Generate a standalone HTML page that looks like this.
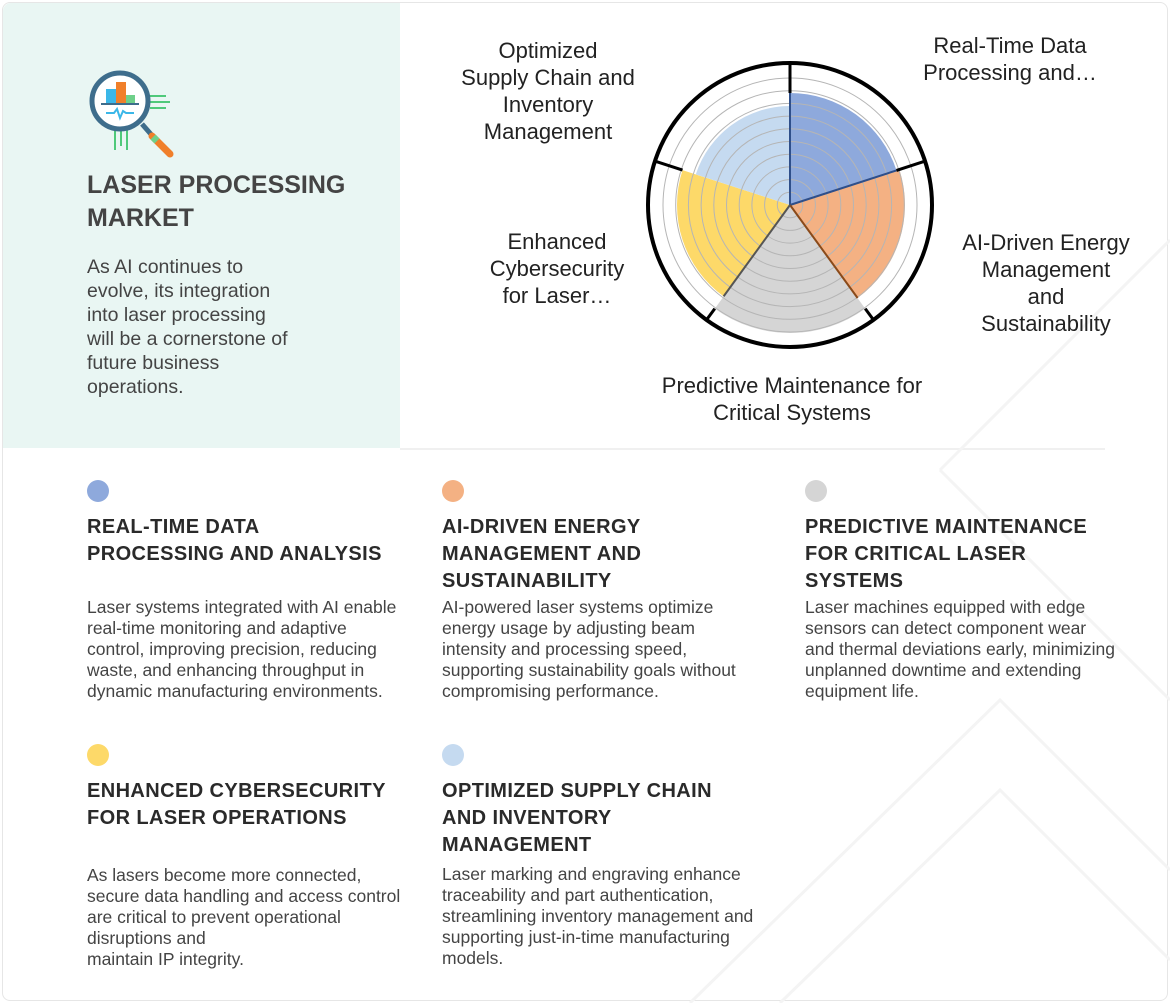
<!DOCTYPE html>
<html><head><meta charset="utf-8"><style>
body{margin:0;width:1170px;height:1003px;background:#fff;font-family:"Liberation Sans",Arial,sans-serif;position:relative;overflow:hidden;color:#333}
.a{position:absolute;white-space:nowrap}
.lbl{font-size:22px;line-height:27px;text-align:center;color:#222;transform:translateX(-50%)}
.t{font-size:20px;line-height:27px;font-weight:bold;color:#2a2a2a;letter-spacing:0.4px}
.b{font-size:17.5px;line-height:21px;color:#444}
.dot{position:absolute;width:22px;height:22px;border-radius:50%}
</style></head><body>
<div class="a" style="left:2px;top:2px;width:1164px;height:997px;border:1px solid #e6e6e6;border-radius:8px"></div>
<div class="a" style="left:3px;top:3px;width:397px;height:445px;background:#e9f6f3;border-radius:8px 0 0 0"></div>
<div class="a" style="left:400px;top:448px;width:705px;height:2px;background:#f0f0f0"></div>
<svg class="a" style="left:0;top:0" width="1170" height="1003">
<g stroke="#f4f4f4" stroke-width="3" fill="none">
<path d="M940 470 L1170 240 M940 470 L1170 700"/>
<path d="M780 1003 L1000 790 L1170 960"/>
<path d="M690 1003 L1000 700 L1170 870"/>
</g>
<g>
<line x1="148" y1="102" x2="170" y2="102" stroke="#4fc97a" stroke-width="2"/>
<line x1="150" y1="108" x2="166" y2="108" stroke="#4fc97a" stroke-width="2"/>
<line x1="150" y1="96" x2="166" y2="96" stroke="#4fc97a" stroke-width="2"/>
<line x1="115" y1="130" x2="115" y2="150" stroke="#4fc97a" stroke-width="2"/>
<line x1="121" y1="130" x2="121" y2="146" stroke="#4fc97a" stroke-width="2"/>
<line x1="127" y1="130" x2="127" y2="150" stroke="#4fc97a" stroke-width="2"/>
<line x1="142" y1="124" x2="163" y2="148" stroke="#3e6d8c" stroke-width="5"/>
<line x1="152" y1="136" x2="170" y2="154" stroke="#f07f2a" stroke-width="7" stroke-linecap="round"/>
<line x1="153" y1="137" x2="157" y2="141" stroke="#6fd08a" stroke-width="7"/>
<circle cx="120" cy="101" r="28" fill="#fff" stroke="#3e6d8c" stroke-width="5"/>
<rect x="106" y="89" width="10" height="14" fill="#3bb7e8"/>
<rect x="116" y="82" width="10" height="21" fill="#f07f2a"/>
<rect x="126" y="95" width="9" height="8" fill="#6fd08a"/>
<line x1="101" y1="104" x2="139" y2="104" stroke="#3e6d8c" stroke-width="2"/>
<polyline points="106,113 114,113 117,109 120,118 123,111 126,113 134,113" fill="none" stroke="#3bb7e8" stroke-width="2"/>
</g>
<path d="M790 205 L790 93 A112 112 0 0 1 896.5 170.4 Z" fill="#8ea9dc"/>
<path d="M790 205 L899.4 169.5 A115 115 0 0 1 857.6 298 Z" fill="#f4b183"/>
<path d="M790 205 L865.2 308.6 A128 128 0 0 1 714.8 308.6 Z" fill="#d5d5d5"/>
<path d="M790 205 L723.6 296.4 A113 113 0 0 1 682.5 170.1 Z" fill="#fdd969"/>
<path d="M790 205 L695.8 174.4 A99 99 0 0 1 790 106 Z" fill="#c5daf0"/>
<g fill="none" stroke="#b5b5b5" stroke-width="1">
<circle cx="790" cy="205" r="12.7"/><circle cx="790" cy="205" r="25.4"/><circle cx="790" cy="205" r="38.1"/><circle cx="790" cy="205" r="50.8"/><circle cx="790" cy="205" r="63.5"/><circle cx="790" cy="205" r="76.2"/><circle cx="790" cy="205" r="88.9"/><circle cx="790" cy="205" r="101.6"/><circle cx="790" cy="205" r="114.3"/><circle cx="790" cy="205" r="127"/>
</g>
<line x1="790" y1="205" x2="790" y2="93" stroke="#2f4f8a" stroke-width="2"/>
<line x1="790" y1="205" x2="896.5" y2="170.4" stroke="#2f4f8a" stroke-width="2"/>
<line x1="790" y1="205" x2="857.6" y2="298" stroke="#8a4a1a" stroke-width="2"/>
<line x1="790" y1="205" x2="723.6" y2="296.4" stroke="#555" stroke-width="2"/>
<g stroke="#000" stroke-width="3">
<line x1="790" y1="93" x2="790" y2="62"/><line x1="896.5" y1="170.4" x2="926" y2="160.8"/><line x1="865.2" y1="308.6" x2="874.1" y2="320.7"/><line x1="714.8" y1="308.6" x2="705.9" y2="320.7"/><line x1="682.5" y1="170.1" x2="654" y2="160.8"/>
</g>
<circle cx="790" cy="205" r="142" fill="none" stroke="#000" stroke-width="4"/>
</svg>
<div class="a lbl" style="left:548px;top:37px">Optimized<br>Supply Chain and<br>Inventory<br>Management</div>
<div class="a lbl" style="left:1010px;top:32px">Real-Time Data<br>Processing and…</div>
<div class="a lbl" style="left:1046px;top:229px">AI-Driven Energy<br>Management<br>and<br>Sustainability</div>
<div class="a lbl" style="left:557px;top:228px">Enhanced<br>Cybersecurity<br>for Laser…</div>
<div class="a lbl" style="left:792px;top:372px">Predictive Maintenance for<br>Critical Systems</div>
<div class="a" style="left:87px;top:169px;font-size:25px;line-height:33px;font-weight:bold;color:#444">LASER PROCESSING<br>MARKET</div>
<div class="a" style="left:87px;top:255px;font-size:19.5px;line-height:24px;color:#444">As AI continues to<br>evolve, its integration<br>into laser processing<br>will be a cornerstone of<br>future business<br>operations.</div>
<div class="dot" style="left:87px;top:480px;background:#8ea9dc"></div>
<div class="dot" style="left:442px;top:480px;background:#f4b183"></div>
<div class="dot" style="left:805px;top:480px;background:#d5d5d5"></div>
<div class="dot" style="left:87px;top:744px;background:#fdd969"></div>
<div class="dot" style="left:442px;top:744px;background:#c5daf0"></div>
<div class="a t" style="left:87px;top:514px">REAL-TIME DATA<br>PROCESSING AND ANALYSIS</div>
<div class="a t" style="left:442px;top:514px">AI-DRIVEN ENERGY<br>MANAGEMENT AND<br>SUSTAINABILITY</div>
<div class="a t" style="left:805px;top:514px">PREDICTIVE MAINTENANCE<br>FOR CRITICAL LASER<br>SYSTEMS</div>
<div class="a b" style="left:87px;top:597px">Laser systems integrated with AI enable<br>real-time monitoring and adaptive<br>control, improving precision, reducing<br>waste, and enhancing throughput in<br>dynamic manufacturing environments.</div>
<div class="a b" style="left:442px;top:597px">AI-powered laser systems optimize<br>energy usage by adjusting beam<br>intensity and processing speed,<br>supporting sustainability goals without<br>compromising performance.</div>
<div class="a b" style="left:805px;top:597px">Laser machines equipped with edge<br>sensors can detect component wear<br>and thermal deviations early, minimizing<br>unplanned downtime and extending<br>equipment life.</div>
<div class="a t" style="left:87px;top:778px">ENHANCED CYBERSECURITY<br>FOR LASER OPERATIONS</div>
<div class="a t" style="left:442px;top:778px">OPTIMIZED SUPPLY CHAIN<br>AND INVENTORY<br>MANAGEMENT</div>
<div class="a b" style="left:87px;top:865px">As lasers become more connected,<br>secure data handling and access control<br>are critical to prevent operational<br>disruptions and<br>maintain IP integrity.</div>
<div class="a b" style="left:442px;top:864px">Laser marking and engraving enhance<br>traceability and part authentication,<br>streamlining inventory management and<br>supporting just-in-time manufacturing<br>models.</div>
</body></html>
